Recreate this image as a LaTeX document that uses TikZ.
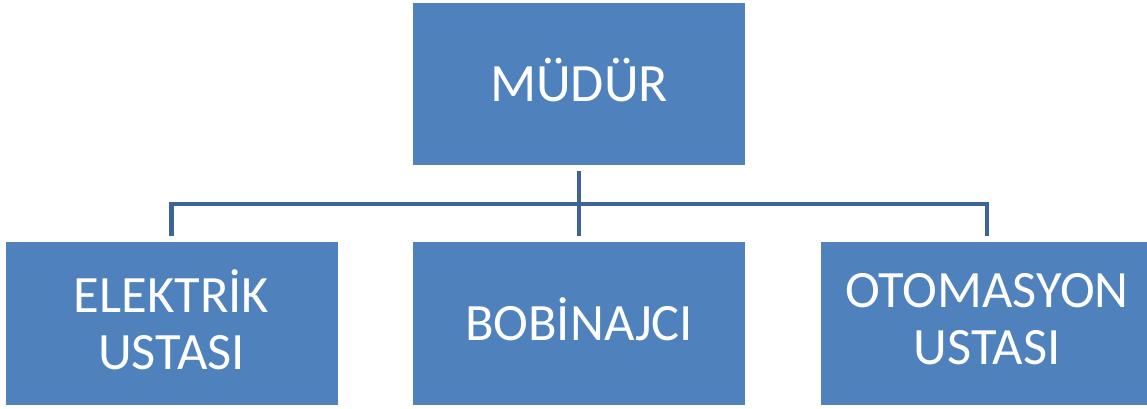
\documentclass[tikz,border=0pt]{standalone}
\usepackage{fontspec}
\setmainfont{Carlito}
\definecolor{boxblue}{RGB}{79,129,189}
\definecolor{connblue}{RGB}{60,100,150}
\begin{document}
\begin{tikzpicture}[x=1pt,y=-1pt,
  orgbox/.style={rectangle,fill=boxblue,draw=none,
    minimum width=332pt,minimum height=163pt,inner sep=0pt},
  boxtext/.style={text=white,align=center,inner sep=0pt,yshift=4pt},
  bigtext/.style={font=\fontsize{54}{64}\selectfont},
  smalltext/.style={font=\fontsize{52.5}{57}\selectfont},
  conn/.style={draw=connblue,line width=4.5pt}]
\useasboundingbox (0,0) rectangle (1147,408);
\clip (0,0) rectangle (1147,408);
\node[orgbox,minimum height=162pt,label={[boxtext,bigtext]center:MÜDÜR}] (top) at (579,84) {};
\node[orgbox,label={[boxtext,smalltext]center:ELEKTRİK\\USTASI}] (left) at (171.5,323.5) {};
\node[orgbox,label={[boxtext,smalltext]center:BOBİNAJCI}] (mid) at (579,323.5) {};
\node[orgbox,label={[boxtext,smalltext]center:OTOMASYON\\USTASI}] (right) at (987,323.5) {};
\coordinate (bus) at (579,204);
\draw[conn] ([yshift=-6pt]top.south) -- ([yshift=5.5pt]mid.north);
\draw[conn] ([yshift=5.5pt]left.north) |- (bus) -| ([yshift=5.5pt]right.north);
\end{tikzpicture}
\end{document}
